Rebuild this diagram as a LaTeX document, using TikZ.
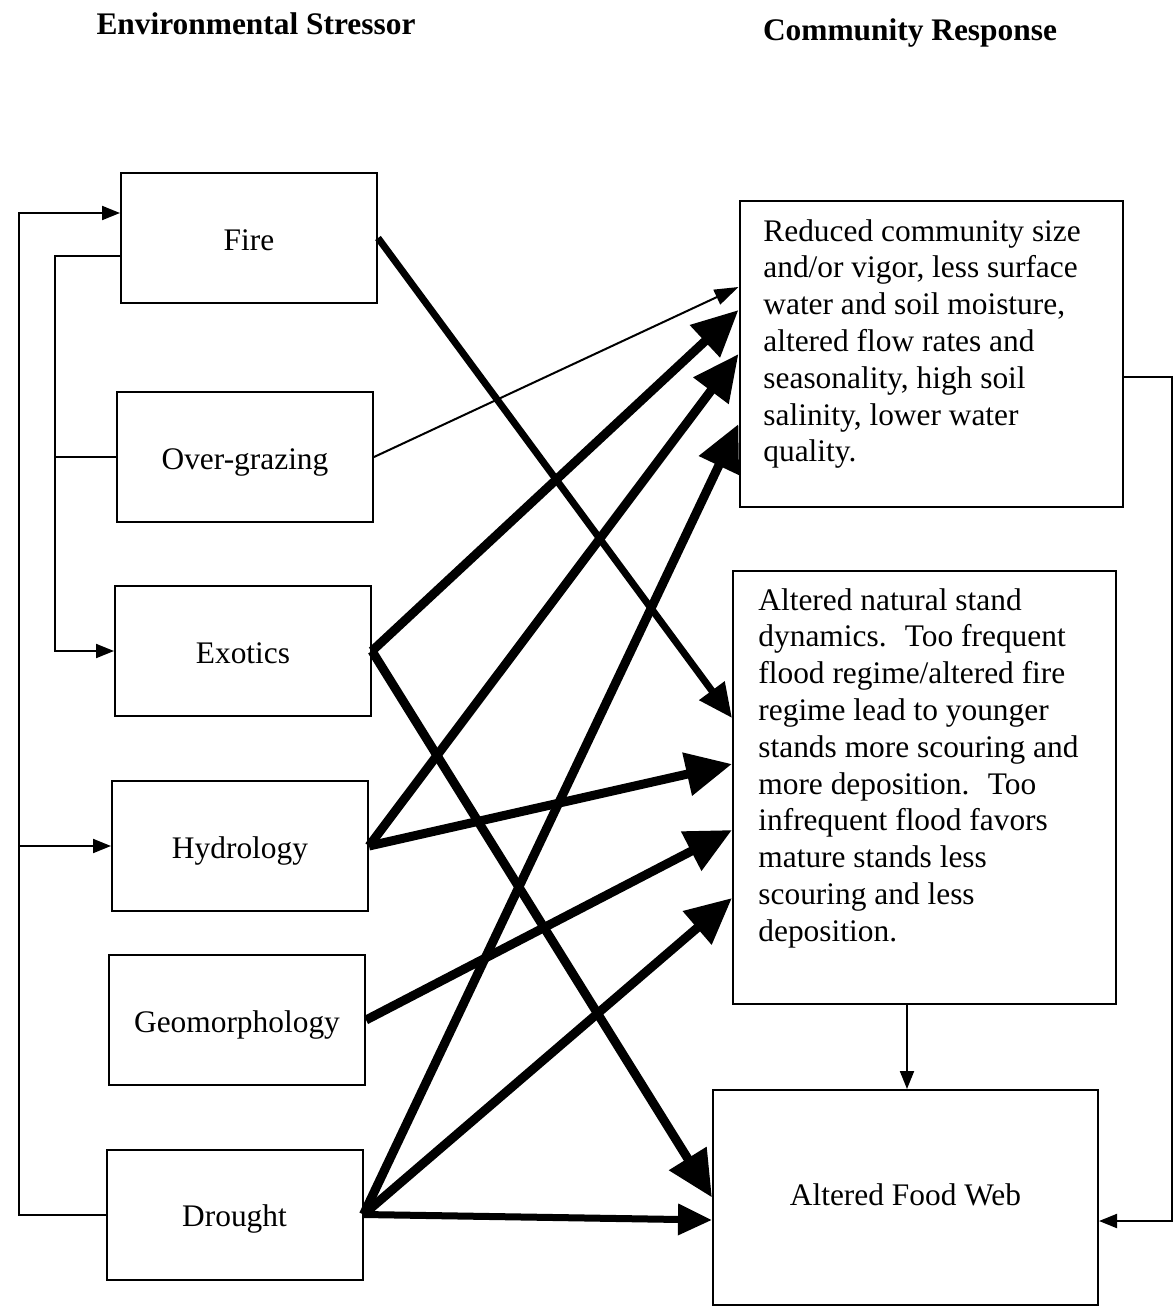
\documentclass[tikz,border=0pt]{standalone}
\usepackage{fontspec}
\setmainfont{Liberation Serif}
\usetikzlibrary{arrows.meta,calc}
\begin{document}
\begin{tikzpicture}[x=0.5pt,y=-0.5pt,
  txt/.style={font=\fontsize{15.7}{18.4}\selectfont},
  headfont/.style={font=\fontsize{15.7}{18.4}\selectfont\bfseries},
  stressor/.style={txt,draw,line width=1pt,minimum width=128pt,minimum height=65pt,inner sep=0pt,text height=12pt,text depth=0pt},
  respbox/.style={draw,line width=1pt,minimum width=191.5pt,inner sep=0pt},
  resptext/.style={txt,align=left,inner sep=0pt,anchor=north west},
  plain/.style={line width=1pt},
  link/.style={line width=1pt,-{Triangle[length=9pt,width=7pt]}},
  light/.style={line width=1pt,-{Triangle[length=12pt,width=8pt]}},
  medium/.style={line width=3.5pt,-{Triangle[length=17pt,width=15pt]}},
  heavy/.style={line width=4.5pt,-{Triangle[length=23pt,width=21pt]}}
]
\useasboundingbox (0,0) rectangle (1175,1307);

% column headings
\node[headfont] (hdrL) at (256,24) {Environmental Stressor};
\node[headfont] (hdrR) at (910,33) {Community Response};

% stressor boxes
\node[stressor] (fire)    at (249,238)    {Fire};
\node[stressor] (graze)   at (245,457)    {Over-grazing};
\node[stressor] (exo)     at (243,651)    {Exotics};
\node[stressor] (hyd)     at (240,846)    {Hydrology};
\node[stressor] (geo)     at (237,1020)   {Geomorphology};
\node[stressor] (drought) at (234.5,1214.5) {Drought};

% response boxes
\node[respbox,minimum height=153pt] (top) at (931,354) {};
\node[resptext] (topText) at (763,219)
  {Reduced community size\\and/or vigor, less surface\\water and soil moisture,\\altered flow rates and\\seasonality, high soil\\salinity, lower water\\quality.};
\node[respbox,minimum height=216.5pt] (mid) at (924.5,787.5) {};
\node[resptext] (midText) at (758,588)
  {Altered natural stand\\dynamics.~ Too frequent\\flood regime/altered fire\\regime lead to younger\\stands more scouring and\\more deposition.~ Too\\infrequent flood favors\\mature stands less\\scouring and less\\deposition.};
\node[respbox,txt,minimum width=192.5pt,minimum height=107.5pt,text height=8pt,text depth=0pt] (food) at (905.5,1197.5) {Altered Food Web};

% feedback loops on the left
\coordinate (innerx) at (55,0);
\coordinate (outerx) at (19,0);
\coordinate (fireOut) at ([yshift=-9pt]fire.west);
\coordinate (fireIn) at ([yshift=12.5pt]fire.west);
\draw[link] (fireOut) -| (innerx |- exo.west) -- (exo.west);
\draw[plain] (graze.west) -- (innerx |- graze.west);
\draw[link] (drought.west) -| (outerx |- fireIn) -- (fireIn);
\draw[link] (outerx |- hyd.west) -- (hyd.west);

% feedback loop on the right
\coordinate (rightx) at (1172,0);
\coordinate (topOut) at ([yshift=-11.5pt]top.east);
\coordinate (foodIn) at ([yshift=-11.75pt]food.east);
\draw[link] (topOut) -| (rightx |- foodIn) -- (foodIn);

% stand dynamics feed the food web
\coordinate (midOut) at ([xshift=-8.75pt]mid.south);
\draw[link] (midOut) -- (midOut |- food.north);

% stressor effects
\draw[medium] (fire.east) -- ([yshift=34.75pt]mid.west);
\draw[light] (graze.east) -- ([yshift=33.5pt]top.west);
\draw[heavy] (exo.east) -- ([yshift=22pt]top.west);
\draw[heavy] (exo.east) -- (food.west);
\draw[heavy] (hyd.east) -- (top.west);
\draw[heavy] (hyd.east) -- ([yshift=11.75pt]mid.west);
\draw[heavy] (geo.east) -- ([yshift=-21.25pt]mid.west);
\draw[heavy] (drought.east) -- ([yshift=-35pt]top.west);
\draw[heavy] (drought.east) -- ([yshift=-55.25pt]mid.west);
\draw[medium] (drought.east) -- ([yshift=-11.25pt]food.west);
\end{tikzpicture}
\end{document}
